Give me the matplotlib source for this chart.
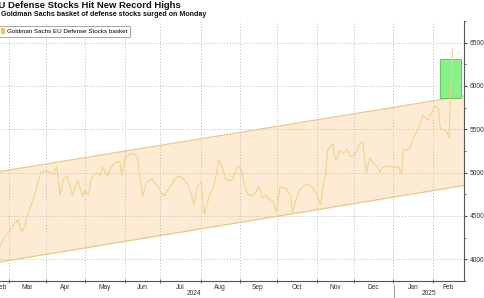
import numpy as np
import pandas as pd
import matplotlib
matplotlib.use("Agg")
import matplotlib.pyplot as plt
import matplotlib.transforms as mtransforms
from matplotlib.patches import Patch, Rectangle

plt.rcParams['font.family'] = ['Liberation Sans', 'DejaVu Sans']

#---------------------------------------------------------------- Data ------------------------------------------------------------
title = "EU Defense Stocks Hit New Record Highs"
subtitle = "Goldman Sachs basket of defense stocks surged on Monday"
series_name = "Goldman Sachs EU Defense Stocks basket"

dates = ["2024-02-19", "2024-02-23", "2024-02-27", "2024-03-01", "2024-03-06", "2024-03-08", "2024-03-12",
         "2024-03-14", "2024-03-15", "2024-03-19", "2024-03-21", "2024-03-25", "2024-03-27", "2024-04-01",
         "2024-04-05", "2024-04-09", "2024-04-11", "2024-04-15", "2024-04-17", "2024-04-22", "2024-04-24",
         "2024-04-25", "2024-04-30", "2024-05-01", "2024-05-03", "2024-05-07", "2024-05-10", "2024-05-14",
         "2024-05-15", "2024-05-20", "2024-05-22", "2024-05-24", "2024-05-29", "2024-05-30", "2024-06-03",
         "2024-06-05", "2024-06-10", "2024-06-12", "2024-06-13", "2024-06-17", "2024-06-19", "2024-06-24",
         "2024-06-27", "2024-07-01", "2024-07-03", "2024-07-05", "2024-07-09", "2024-07-11", "2024-07-16",
         "2024-07-18", "2024-07-23", "2024-07-26", "2024-07-30", "2024-08-01", "2024-08-02", "2024-08-05",
         "2024-08-08", "2024-08-12", "2024-08-14", "2024-08-15", "2024-08-19", "2024-08-21", "2024-08-26",
         "2024-08-27", "2024-08-30", "2024-09-03", "2024-09-05", "2024-09-09", "2024-09-12", "2024-09-17",
         "2024-09-19", "2024-09-23", "2024-09-24", "2024-09-27", "2024-10-01", "2024-10-03", "2024-10-08",
         "2024-10-11", "2024-10-14", "2024-10-17", "2024-10-21", "2024-10-24", "2024-10-29", "2024-11-01",
         "2024-11-05", "2024-11-06", "2024-11-08", "2024-11-11", "2024-11-14", "2024-11-15", "2024-11-18",
         "2024-11-20", "2024-11-22", "2024-11-26", "2024-11-28", "2024-12-02", "2024-12-04", "2024-12-05",
         "2024-12-09", "2024-12-11", "2024-12-13", "2024-12-17", "2024-12-19", "2024-12-23", "2024-12-24",
         "2024-12-27", "2025-01-02", "2025-01-06", "2025-01-08", "2025-01-09", "2025-01-13", "2025-01-15",
         "2025-01-17", "2025-01-21", "2025-01-23", "2025-01-24", "2025-01-29", "2025-01-30", "2025-02-03",
         "2025-02-04", "2025-02-06", "2025-02-07", "2025-02-11", "2025-02-13", "2025-02-14", "2025-02-17",
         "2025-02-18"]
values = [4080, 4155, 4246, 4320, 4412, 4452, 4320,
          4375, 4485, 4596, 4706, 4853, 5004, 5019,
          4982, 5074, 4743, 4927, 4963, 4743, 4853,
          4908, 4728, 4798, 4743, 4949, 5004, 4963,
          5074, 4963, 5060, 5115, 5129, 4963, 5170,
          5203, 5222, 5170, 5004, 4728, 4890, 4927,
          4853, 4790, 4728, 4798, 4853, 4927, 4963,
          4927, 4853, 4632, 4838, 4890, 4706, 4522,
          4743, 4817, 5000, 5148, 5074, 4927, 4908,
          4927, 5074, 5037, 4835, 4743, 4743, 4835,
          4706, 4743, 4706, 4670, 4541, 4835, 4817,
          4743, 4541, 4743, 4817, 4872, 4835, 4743,
          4632, 4800, 5000, 5258, 5331, 5184, 5148,
          5258, 5222, 5276, 5184, 5203, 5258, 5331,
          5350, 5004, 5170, 5111, 5074, 5004, 5060,
          5074, 5060, 5074, 4982, 5276, 5258, 5294,
          5405, 5497, 5570, 5662, 5607, 5644, 5736,
          5772, 5736, 5515, 5497, 5460, 5400, 6000,
          6420]

# trend channel (start / end)
channel_dates = ["2024-02-19", "2025-02-27"]
channel_upper = [5001, 5888]
channel_lower = [3957, 4854]

# highlight box
box_dates = ["2025-02-07", "2025-02-25"]
box_values = [5860, 6315]

yticks = [4000, 4500, 5000, 5500, 6000, 6500]

#---------------------------------------------------------------- Helpers ------------------------------------------------------------
origin = "2024-02-19"
end = "2025-02-28"

def pos(d):
    # trading-day position (weekdays) since origin
    return np.busday_count(origin, np.array(d, dtype="datetime64[D]"))

x = pos(dates)
xc = pos(channel_dates)

#---------------------------------------------------------------- Figure ------------------------------------------------------------
W, H = 485, 298
fig = plt.figure(figsize=(W / 100, H / 100), dpi=100)
ax = fig.add_axes([-7 / W, 1 - 281 / H, 471 / W, 260 / H])

xmin, xmax = -0.1, 267.5
ax.set_xlim(xmin, xmax)
ax.set_ylim(3812, 6682)

# channel
ax.fill_between(xc, channel_lower, channel_upper, color="#fdebd3", zorder=1, linewidth=0)
ax.plot(xc, channel_upper, color="#e8c98c", linewidth=0.9, zorder=2)
ax.plot(xc, channel_lower, color="#e8c98c", linewidth=0.9, zorder=2)

# highlight box
bx = pos(box_dates)
ax.add_patch(Rectangle((bx[0], box_values[0]), bx[1] - bx[0], box_values[1] - box_values[0],
                       facecolor="#7cf07c", edgecolor="#3fbf3f", linewidth=0.6, zorder=3, alpha=0.9))

# price line
ax.plot(x, values, color="#ead27f", linewidth=0.7, zorder=4)

# grid
ax.set_yticks(yticks)
ax.set_yticks(np.arange(3750, 6751, 250), minor=True)
ax.yaxis.tick_right()
ax.grid(True, axis="y", which="major", color="#bdbdbd", linestyle=(0, (1, 2)), linewidth=0.7)

# month ticks at first trading day of each month
bdays = pd.bdate_range(origin, end)
first = bdays.to_series().groupby([bdays.year, bdays.month]).first()
month_pos = [int(pos(d.strftime("%Y-%m-%d"))) for d in first]
month_names = [d.strftime("%b") for d in first]
ax.set_xticks(month_pos[1:])
ax.set_xticklabels([])
ax.grid(True, axis="x", which="major", color="#bdbdbd", linestyle=(0, (1, 2)), linewidth=0.7)

for s in ["top", "left"]:
    ax.spines[s].set_visible(False)
for s in ["bottom", "right"]:
    ax.spines[s].set_color("#555555")
    ax.spines[s].set_linewidth(0.8)

ax.tick_params(axis="y", which="major", direction="out", length=2.5, width=0.8, colors="#555555",
               labelsize=4.8, labelcolor="#333333", pad=1.5)
ax.tick_params(axis="y", which="minor", direction="out", length=1.5, width=0.6, colors="#555555")
ax.tick_params(axis="x", which="major", direction="inout", length=3, width=0.6, colors="#555555")

# month labels, centred in the visible part of each month
trans = mtransforms.blended_transform_factory(ax.transData, ax.transAxes)
edges = [xmin] + month_pos[1:] + [xmax]
for i, name in enumerate(month_names):
    c = (max(edges[i], xmin) + min(edges[i + 1], xmax)) / 2
    ax.text(c, -0.01, name, transform=trans, ha="center", va="top", fontsize=4.8, color="#333333", clip_on=False)

# year labels and separator
jan25 = int(pos("2025-01-02"))
ax.text((xmin + jan25) / 2, -0.036, "2024", transform=trans, ha="center", va="top", fontsize=4.8, color="#333333")
ax.text((jan25 + xmax) / 2, -0.036, "2025", transform=trans, ha="center", va="top", fontsize=4.8, color="#333333")
ax.plot([jan25, jan25], [-0.015, -0.12], transform=trans, color="#888888", linewidth=0.6, clip_on=False)

# legend
leg = ax.legend(handles=[Patch(facecolor="#f3c257", edgecolor="none", label=series_name)],
                loc="upper left", bbox_to_anchor=(-5 / W, 1 - 22.5 / H), bbox_transform=fig.transFigure,
                fontsize=4.5, handlelength=0.6, handleheight=0.9, handletextpad=0.4, borderpad=0.45,
                frameon=True, fancybox=True, framealpha=1, edgecolor="#9a9a9a")
leg.get_frame().set_linewidth(0.6)
leg.set_zorder(10)

# titles
fig.text(-8 / W, 1 - 1.5 / H, title, fontsize=6.8, fontweight="bold", ha="left", va="top", color="#111111")
fig.text(1.5 / W, 1 - 11.5 / H, subtitle, fontsize=5.15, fontweight="bold", ha="left", va="top", color="#111111")

fig.savefig("out.png", dpi=100)
